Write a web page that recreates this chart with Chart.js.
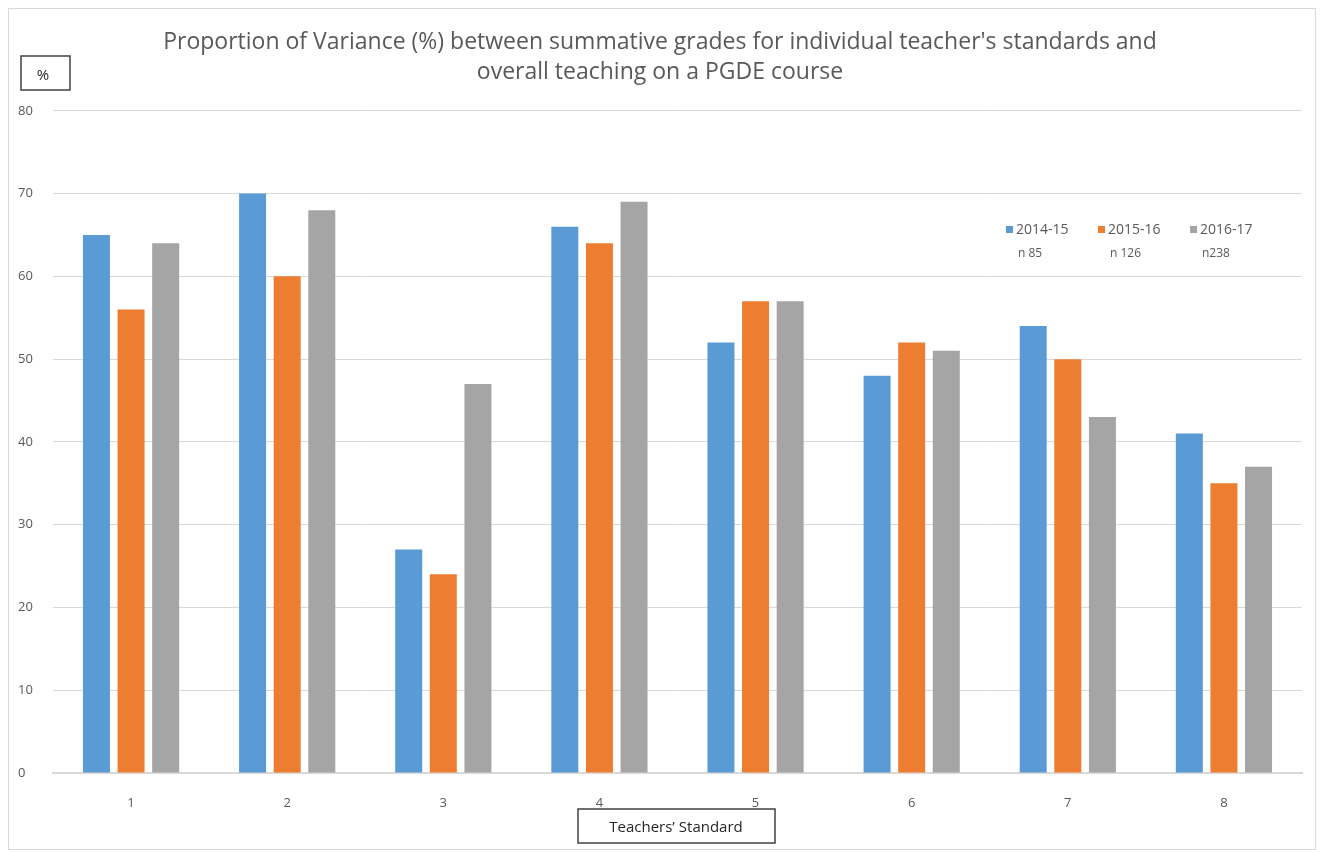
<!DOCTYPE html>
<html>
<head>
<meta charset="utf-8">
<script src="https://cdn.jsdelivr.net/npm/chart.js@4"></script>
<style>
  html, body { margin: 0; padding: 0; background: #ffffff; }
  canvas { display: block; }
</style>
</head>
<body>
<canvas id="VarianceChart" width="1324" height="853"></canvas>
<script>
(function () {
  "use strict";

  // chart data
  const standards   = ['1', '2', '3', '4', '5', '6', '7', '8'];
  const series_2014 = [65, 70, 27, 66, 52, 48, 54, 41];
  const series_2015 = [56, 60, 24, 64, 57, 52, 50, 35];
  const series_2016 = [64, 68, 47, 69, 57, 51, 43, 37];
  const years       = ['2014-15', '2015-16', '2016-17'];
  const sample_n    = ['n 85', 'n 126', 'n238'];

  // office colors
  const color_blue   = '#5b9bd5';
  const color_orange = '#ed7d31';
  const color_gray   = '#a5a5a5';
  const text_gray    = '#595959';
  const grid_color   = '#d9d9d9';
  const font_family  = "'Open Sans', 'Noto Sans', sans-serif";

  // boxes, legend and frame drawn on top
  const extras = {
    id: 'extras',
    afterDraw(chart) {
      const ctx = chart.ctx;
      ctx.save();
      // outer frame
      ctx.strokeStyle = '#d9d9d9';
      ctx.lineWidth = 1;
      ctx.strokeRect(8.5, 8.5, 1307, 841);

      // "%" box
      ctx.strokeStyle = '#404040';
      ctx.lineWidth = 1.5;
      ctx.strokeRect(21, 56, 49, 34);
      ctx.fillStyle = '#262626';
      ctx.font = '15px ' + font_family;
      ctx.textAlign = 'center';
      ctx.textBaseline = 'middle';
      ctx.fillText('%', 43, 76);

      // x axis label box
      ctx.strokeRect(578, 809, 197, 34);
      ctx.font = '15px ' + font_family;
      ctx.fillText('Teachers\u2019 Standard', 676, 828);

      // legend
      const legend_x = [1006, 1098, 1190];
      ctx.textAlign = 'left';
      chart.data.datasets.forEach(function (ds, i) {
        ctx.fillStyle = ds.backgroundColor;
        ctx.fillRect(legend_x[i], 226, 7, 7);
        ctx.fillStyle = text_gray;
        ctx.font = '14px ' + font_family;
        ctx.fillText(years[i], legend_x[i] + 10, 230);
        ctx.font = '12px ' + font_family;
        ctx.fillText(sample_n[i], legend_x[i] + 12, 254);
      });
      ctx.restore();
    }
  };

  const ctb = document.getElementById('VarianceChart').getContext('2d');
  new Chart(ctb, {
    type: 'bar',
    data: {
      labels: standards,
      datasets: [
        { label: years[0], data: series_2014, backgroundColor: color_blue },
        { label: years[1], data: series_2015, backgroundColor: color_orange },
        { label: years[2], data: series_2016, backgroundColor: color_gray }
      ]
    },
    options: {
      responsive: false,
      animation: false,
      categoryPercentage: 0.665,
      barPercentage: 0.78,
      layout: {
        padding: { left: 18, right: 22, top: 28, bottom: 0 }
      },
      scales: {
        x: {
          grid: { display: false },
          border: { display: true, color: grid_color, width: 2 },
          ticks: {
            color: text_gray,
            padding: 14,
            font: { family: font_family, size: 13 }
          },
          afterFit: (scale) => { scale.height = 80; }
        },
        y: {
          min: 0,
          max: 80,
          grid: { color: grid_color, drawTicks: false },
          border: { display: false },
          ticks: {
            stepSize: 10,
            color: text_gray,
            crossAlign: 'far',
            padding: 8,
            font: { family: font_family, size: 13 }
          },
          afterFit: (scale) => { scale.width = 35; }
        }
      },
      plugins: {
        legend: { display: false },
        tooltip: { enabled: false },
        title: {
          display: true,
          text: [
            'Proportion of Variance (%) between summative grades for individual teacher\'s standards and',
            'overall teaching on a PGDE course'
          ],
          color: text_gray,
          font: { family: font_family, size: 23, weight: 'normal', lineHeight: 1.3 },
          padding: { top: 0, bottom: 23 }
        }
      }
    },
    plugins: [extras]
  });
})();
</script>
</body>
</html>
